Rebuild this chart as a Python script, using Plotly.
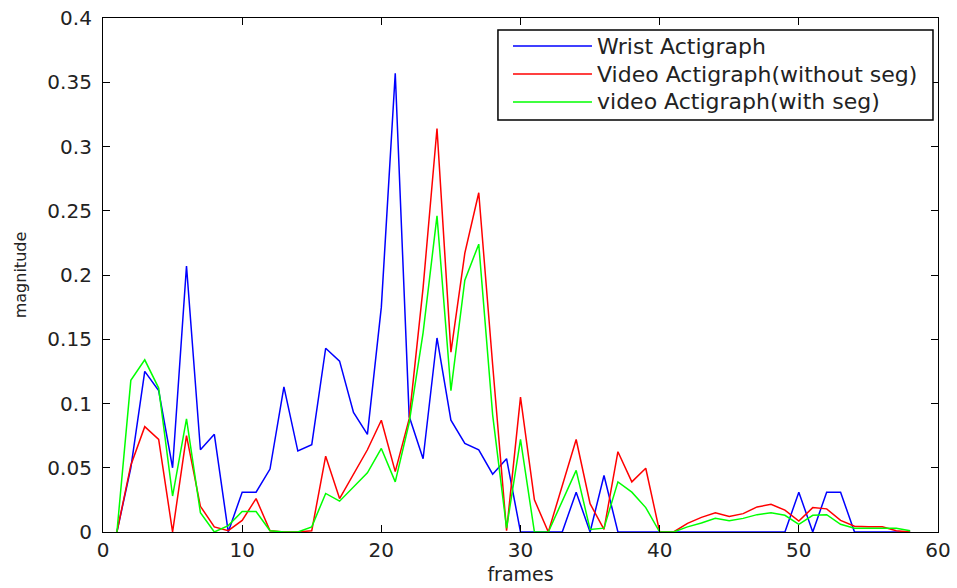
import plotly.graph_objects as go

frames = list(range(1, 59))

wrist = [0, 0.05, 0.125, 0.11, 0.05, 0.207, 0.064, 0.076, 0, 0.031,
         0.031, 0.049, 0.113, 0.063, 0.068, 0.143, 0.133, 0.093, 0.076, 0.175,
         0.357, 0.09, 0.057, 0.151, 0.087, 0.069, 0.064, 0.045, 0.057, 0,
         0, 0, 0, 0.031, 0, 0.044, 0, 0, 0, 0,
         0, 0, 0, 0, 0, 0, 0, 0, 0, 0.031,
         0, 0.031, 0.031, 0, 0, 0, 0, 0]

video_noseg = [0, 0.052, 0.082, 0.072, 0, 0.075, 0.02, 0.004, 0.001, 0.009,
               0.026, 0.001, 0, 0, 0.001, 0.059, 0.026, 0.045, 0.064, 0.087,
               0.047, 0.088, 0.19, 0.314, 0.14, 0.217, 0.264, 0.13, 0.001, 0.105,
               0.025, 0, 0.036, 0.072, 0.022, 0.002, 0.0625, 0.039, 0.0496, 0,
               0, 0.0067, 0.0114, 0.015, 0.012, 0.0143, 0.0195, 0.0215, 0.017, 0.0085,
               0.019, 0.018, 0.009, 0.0045, 0.004, 0.004, 0.001, 0]

video_seg = [0, 0.118, 0.134, 0.112, 0.028, 0.088, 0.015, 0, 0.005, 0.016,
             0.016, 0.001, 0, 0, 0.004, 0.03, 0.024, 0.035, 0.046, 0.065,
             0.039, 0.085, 0.155, 0.246, 0.11, 0.196, 0.224, 0.091, 0.003, 0.072,
             0, 0, 0.024, 0.048, 0.002, 0.003, 0.039, 0.031, 0.019, 0,
             0, 0.004, 0.007, 0.0106, 0.0088, 0.0106, 0.0135, 0.015, 0.013, 0.006,
             0.013, 0.0135, 0.006, 0.003, 0.003, 0.003, 0.003, 0.001]

series_names = ["Wrist Actigraph", "Video Actigraph(without seg)", "video Actigraph(with seg)"]
series_colors = ["#0000FF", "#FF0000", "#00FF00"]

x_ticks = [0, 10, 20, 30, 40, 50, 60]
y_ticks = [0, 0.05, 0.1, 0.15, 0.2, 0.25, 0.3, 0.35, 0.4]
y_tick_labels = ["0", "0.05", "0.1", "0.15", "0.2", "0.25", "0.3", "0.35", "0.4"]

FONT = "DejaVu Sans"
TXT = "#222222"

fig = go.Figure()
for name, ys, col in zip(series_names, [wrist, video_noseg, video_seg], series_colors):
    fig.add_trace(go.Scatter(x=frames, y=ys, mode="lines", name=name,
                             line=dict(color=col, width=1.5), showlegend=False))

# manual MATLAB-style legend
lx0, lx1, ly0, ly1 = 0.473, 0.994, 0.8016, 0.9767
shapes = [dict(type="rect", xref="paper", yref="paper", x0=lx0, x1=lx1, y0=ly0, y1=ly1,
               line=dict(color="black", width=1.5), fillcolor="white", layer="above")]
annotations = []
rows = [0.9455, 0.891, 0.8366]
for name, col, ry in zip(series_names, series_colors, rows):
    shapes.append(dict(type="line", xref="paper", yref="paper", x0=0.491, x1=0.5856,
                       y0=ry, y1=ry, line=dict(color=col, width=1.5), layer="above"))
    annotations.append(dict(xref="paper", yref="paper", x=0.5928, y=ry, text=name,
                            showarrow=False, xanchor="left", yanchor="middle",
                            xshift=-3,
                            font=dict(family=FONT, size=22, color=TXT)))

fig.update_layout(
    width=957, height=588,
    margin=dict(l=103, r=19, t=18, b=56, autoexpand=False),
    paper_bgcolor="white", plot_bgcolor="white",
    shapes=shapes, annotations=annotations,
    font=dict(family=FONT, color=TXT),
)
fig.update_xaxes(range=[0, 60], tickvals=x_ticks, ticktext=[str(v) for v in x_ticks],
                 ticks="inside", ticklen=7, tickcolor="black", showline=True,
                 linecolor="black", linewidth=1.2, mirror="ticks", showgrid=False,
                 zeroline=False, automargin=False,
                 tickfont=dict(family=FONT, size=20, color=TXT),
                 title=dict(text="frames", font=dict(family=FONT, size=19, color=TXT),
                            standoff=6))
fig.update_yaxes(range=[0, 0.4], tickvals=y_ticks, ticktext=y_tick_labels,
                 ticks="inside", ticklen=7, tickcolor="black", showline=True,
                 linecolor="black", linewidth=1.2, mirror="ticks", showgrid=False,
                 zeroline=False, automargin=False,
                 tickfont=dict(family=FONT, size=20, color=TXT),
                 ticklabelstandoff=6,
                 title=dict(text="magnitude", font=dict(family=FONT, size=16, color=TXT),
                            standoff=16))

fig.write_html("out.html")
